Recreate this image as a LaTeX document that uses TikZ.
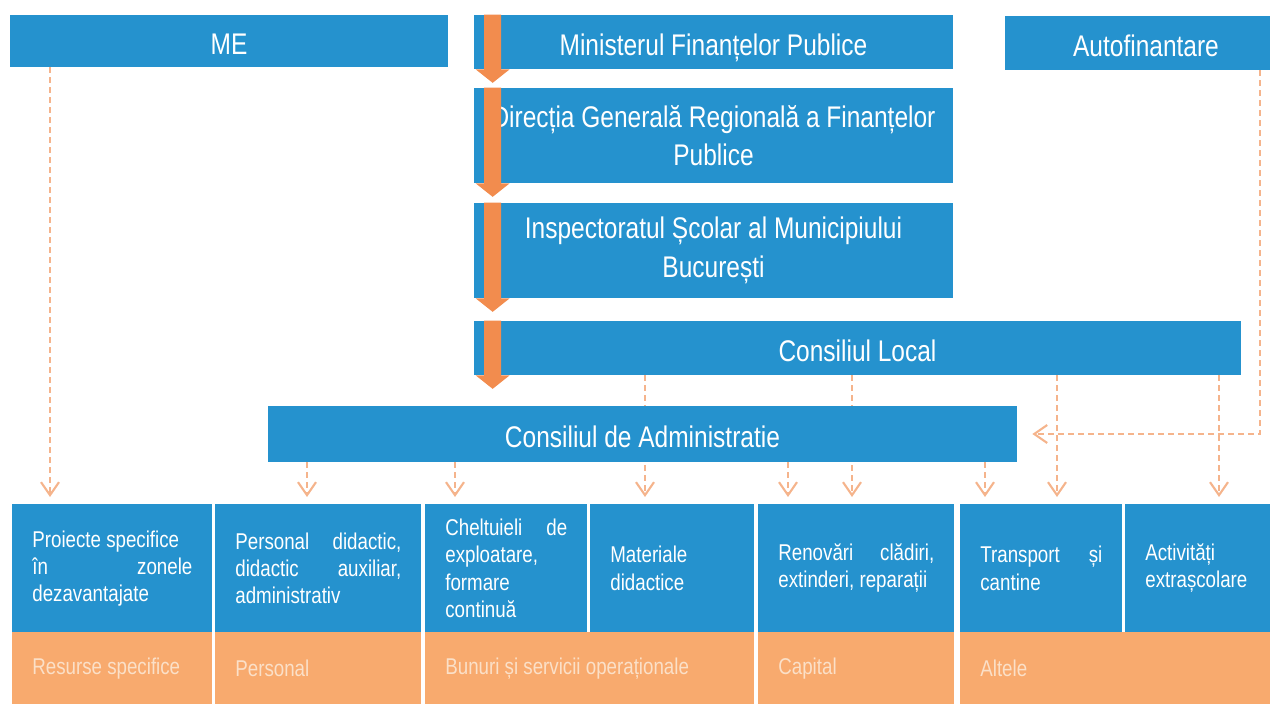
\documentclass[tikz,border=0pt]{standalone}
\usepackage{fontspec}
\setmainfont{Liberation Sans}[FakeStretch=0.82]
\usepackage{tikz}
\usetikzlibrary{arrows.meta,backgrounds}
\definecolor{blueboxc}{HTML}{2592CE}
\definecolor{flowc}{HTML}{F28C4E}
\definecolor{ecoc}{HTML}{F8AA6E}
\definecolor{ecotextc}{HTML}{FBE0C8}
\definecolor{fundc}{HTML}{F5B48C}
\tikzstyle{topbox} = [fill=blueboxc, text=white, inner sep=0pt, align=center, font=\fontsize{17}{22}\selectfont]
\tikzstyle{oneline} = [text height=0.55cm, text depth=0pt]
\tikzstyle{cell} = [fill=blueboxc, text=white, anchor=north west, align=flush left, inner xsep=0.4cm, inner ysep=0pt, minimum height=2.56cm, font=\fontsize{13}{15.5}\selectfont]
\tikzstyle{eco} = [cell, fill=ecoc, text=ecotextc, minimum height=1.44cm]
\tikzstyle{fund} = [fundc, line width=1.2pt, dash pattern=on 1.2mm off 0.8mm, -{Straight Barb[length=2.6mm,width=3.6mm]}, shorten >=0.14cm]
\tikzstyle{flowarrow} = [fill=flowc]

\begin{document}
\begin{tikzpicture}
    \useasboundingbox (0,0) rectangle (25.4,14.08);
    % sursele de finantare
    \node[topbox, oneline, minimum width=8.76cm, minimum height=1.04cm] (me) at (4.58,13.26) {ME};
    \node[topbox, oneline, minimum width=9.58cm, minimum height=1.08cm] (mfp) at (14.27,13.24) {Ministerul Finanțelor Publice};
    \node[topbox, oneline, minimum width=5.64cm, minimum height=1.08cm] (auto) at (22.92,13.22) {Autofinantare};
    \node[topbox, minimum width=9.58cm, minimum height=1.90cm] (dgrfp) at (14.27,11.37) {Direcția Generală Regională a Finanțelor\\Publice};
    \node[topbox, minimum width=9.58cm, minimum height=1.90cm] (isj) at (14.27,9.07) {Inspectoratul Școlar al Municipiului\\București};
    \node[topbox, oneline, minimum width=15.34cm, minimum height=1.08cm] (cl) at (17.15,7.12) {Consiliul Local};
    \node[topbox, oneline, minimum width=14.98cm, minimum height=1.12cm] (ca) at (12.85,5.40) {Consiliul de Administratie};

    % destinatii
    \node[cell, text width=3.20cm] (p1) at (0.24,4.00) {Proiecte specifice\\ în\hfill zonele\\ dezavantajate};
    \node[cell, text width=3.32cm] (p2) at (4.30,4.00) {Personal\hfill didactic,\\ didactic\hfill auxiliar,\\ administrativ};
    \node[cell, text width=2.44cm] (p3) at (8.50,4.00) {Cheltuieli\hfill de\\ exploatare,\\ formare\\ continuă};
    \node[cell, text width=2.48cm] (p4) at (11.80,4.00) {Materiale\\ didactice};
    \node[cell, text width=3.12cm] (p5) at (15.16,4.00) {Renovări\hfill clădiri,\\ extinderi, reparații};
    \node[cell, text width=2.44cm] (p6) at (19.20,4.00) {Transport\hfill și\\ cantine};
    \node[cell, text width=2.44cm] (p7) at (22.50,4.00) {Activități\\ extrașcolare};

    % categorii
    \node[eco, text width=3.20cm] (e1) at (0.24,1.44) {Resurse specifice};
    \node[eco, text width=3.32cm] (e2) at (4.30,1.44) {Personal};
    \node[eco, text width=5.78cm] (e3) at (8.50,1.44) {Bunuri și servicii operaționale};
    \node[eco, text width=3.12cm] (e4) at (15.16,1.44) {Capital};
    \node[eco, text width=5.74cm] (e5) at (19.20,1.44) {Altele};

    % fluxul ierarhic
    \foreach \b in {mfp,dgrfp,isj,cl}
        \fill[flowarrow] ([xshift=0.21cm]\b.north west) -- ([xshift=0.55cm]\b.north west)
            -- ([xshift=0.55cm]\b.south west) -- ([xshift=0.72cm]\b.south west)
            -- ([xshift=0.38cm,yshift=-0.27cm]\b.south west) -- ([xshift=0.04cm]\b.south west)
            -- ([xshift=0.21cm]\b.south west) -- cycle;

    % culoarele liniilor punctate
    \foreach \n/\x in {lme/1.00,lpers/6.14,lbun/9.10,lmat/12.90,lcap/15.76,lren/17.04,lalt/19.70,ltrans/21.14,lact/24.38,lauto/25.20}
        \coordinate (\n) at (\x,0);

    \draw[fund] (me.south -| lme) -- (p1.north -| lme);
    \draw[fund] (ca.south -| lpers) -- (p2.north -| lpers);
    \draw[fund] (ca.south -| lbun) -- (p3.north -| lbun);
    \draw[fund] (ca.south -| lcap) -- (p5.north -| lcap);
    \draw[fund] (ca.south -| lalt) -- (p6.north -| lalt);
    \begin{scope}[on background layer]
        \draw[fund] (cl.south -| lmat) -- (p4.north -| lmat);
        \draw[fund] (cl.south -| lren) -- (p5.north -| lren);
    \end{scope}
    \draw[fund] (cl.south -| ltrans) -- (p6.north -| ltrans);
    \draw[fund] (cl.south -| lact) -- (p7.north -| lact);
    \draw[fund] (auto.south -| lauto) |- ([xshift=0.16cm]ca.east);
\end{tikzpicture}
\end{document}
